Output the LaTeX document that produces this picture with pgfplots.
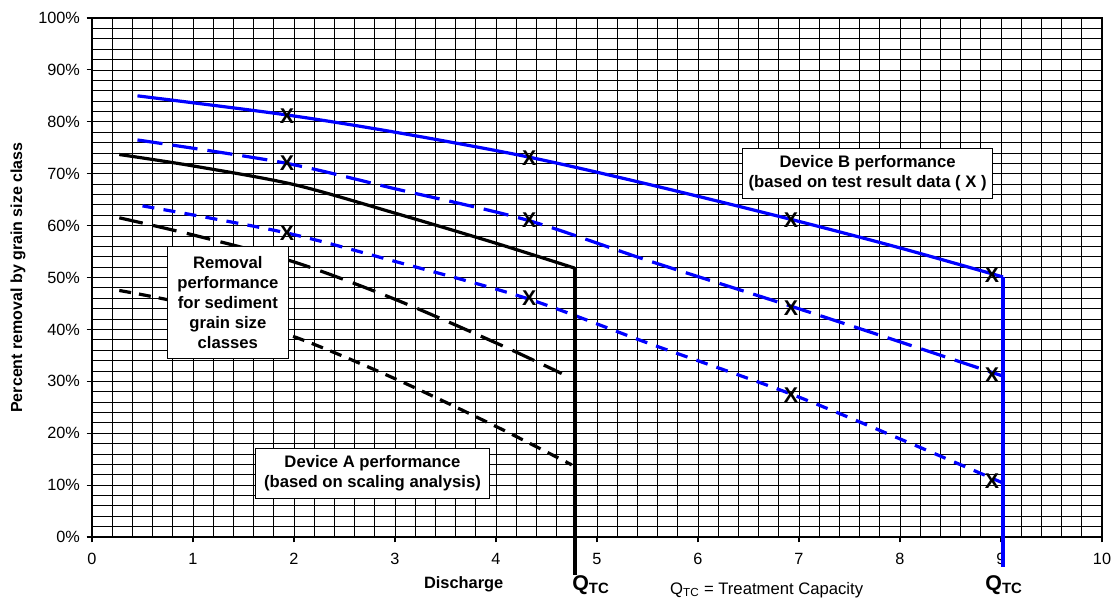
\documentclass[border=0pt]{standalone}
\usepackage{pgfplots}
\pgfplotsset{compat=1.18}
\usepackage{fontspec}
\setmainfont{Liberation Sans}

\begin{document}
\begin{tikzpicture}
\useasboundingbox (-69pt,-48pt) rectangle (767.25pt,402.75pt);
\begin{axis}[
  at={(0,0)}, anchor=south west,
  scale only axis, width=757.5pt, height=389.25pt,
  xmin=0, xmax=10, ymin=0, ymax=100,
  xtick={0,1,...,10}, ytick={0,10,...,100},
  minor x tick num=4, minor y tick num=4,
  grid=both,
  major grid style={black, line width=0.6pt},
  minor grid style={black, line width=0.6pt},
  axis line style={black, line width=0.8pt},
  tick pos=left, tick align=outside,
  major tick length=4pt, minor tick length=0pt,
  tick style={black, line width=0.8pt},
  /pgf/number format/assume math mode=true,
  yticklabel={\pgfmathprintnumber{\tick}\%},
  ticklabel style={font=\fontsize{12.2}{14}\selectfont},
  xticklabel style={yshift=-4.5pt},
  yticklabel style={xshift=-1.5pt},
  clip=false,
  xlabel={Discharge},
  xlabel style={at={(axis description cs:0.368,-0.0906)}, anchor=center, font=\bfseries\fontsize{12.3}{14}\selectfont},
  ylabel={Percent removal by grain size class},
  ylabel style={at={(axis description cs:-0.0733,0.5)}, anchor=center, font=\bfseries\fontsize{12}{14}\selectfont},
]
% Device B (blue)
\addplot[blue, line width=2.4pt, smooth] coordinates {(0.45,85)(1.9,81.4)(3,78.0)(4.3,73.3)(5.5,68.0)(6.9,61.3)(8,55.7)(9.02,50.1)};
\addplot[blue, line width=2.4pt, dash pattern=on 19pt off 7.5pt, smooth] coordinates {(0.45,76.5)(1.9,72.1)(3,67.1)(4.3,61.1)(5.5,53.3)(6.9,44.6)(8,37.6)(9.02,31)};
\addplot[blue, line width=2.4pt, dash pattern=on 9pt off 7pt, smooth] coordinates {(0.5,63.8)(1.9,58.7)(3,53.1)(4.3,46)(5.5,37.4)(6.9,27.7)(8,18.9)(9.02,10.4)};
% Device A (black)
\addplot[black, line width=2.4pt, smooth] coordinates {(0.27,73.7)(1,71.5)(2,67.9)(3,62.4)(4,56.6)(4.78,51.8)};
\addplot[black, line width=2.4pt, dash pattern=on 18pt off 8pt, smooth] coordinates {(0.27,61.5)(1,58.2)(2,53)(3,45.8)(4,37.4)(4.65,31.5)};
\addplot[black, line width=2.4pt, dash pattern=on 9pt off 6pt, smooth] coordinates {(0.27,47.5)(1,44.6)(2,38.6)(3,30.5)(4,21.3)(4.75,13.9)};
% treatment capacity lines
\addplot[black, line width=3.4pt] coordinates {(4.78,51.8)(4.78,-7.3)};
\addplot[blue, line width=3.5pt] coordinates {(9.02,50.1)(9.02,-5.8)};
% test result data
\addplot[draw=none, mark=none, nodes near coords={X},
  every node near coord/.append style={anchor=center, inner sep=0pt, font=\bfseries\fontsize{16}{17}\selectfont}]
  coordinates {(1.93,81.1)(4.33,73.0)(6.92,61.1)(8.91,50.5)(1.93,72.0)(4.33,61.0)(6.92,44.1)(8.91,31.2)(1.93,58.5)(4.33,46.0)(6.92,27.4)(8.91,10.7)};
% boxes
\node[draw=black, line width=0.8pt, fill=white, align=center, minimum width=90.75pt, minimum height=84pt, inner sep=0pt, font=\bfseries\fontsize{12.5}{15}\selectfont] at (axis cs:1.345,45.1) {Removal\\performance\\for sediment\\grain size\\classes};
\node[draw=black, line width=0.8pt, fill=white, align=center, minimum width=176pt, minimum height=37.5pt, inner sep=0pt, font=\bfseries\fontsize{12.5}{15.5}\selectfont] at (axis cs:2.777,12.3) {Device A performance\\(based on scaling analysis)};
\node[draw=black, line width=0.8pt, fill=white, align=center, minimum width=187.5pt, minimum height=37.5pt, inner sep=0pt, font=\bfseries\fontsize{12.5}{15.5}\selectfont] at (axis cs:7.68,70.1) {Device B performance\\(based on test result data ( X )};
% bottom annotations
\node[font=\bfseries\fontsize{16}{18}\selectfont, anchor=center] at (axis description cs:0.494,-0.0925) {Q\textsubscript{TC}};
\node[font=\bfseries\fontsize{16}{18}\selectfont, anchor=center] at (axis description cs:0.903,-0.0925) {Q\textsubscript{TC}};
\node[font=\fontsize{12.5}{14}\selectfont, anchor=center] at (axis description cs:0.668,-0.102) {Q\textsubscript{TC} = Treatment Capacity};
\end{axis}
\end{tikzpicture}
\end{document}
